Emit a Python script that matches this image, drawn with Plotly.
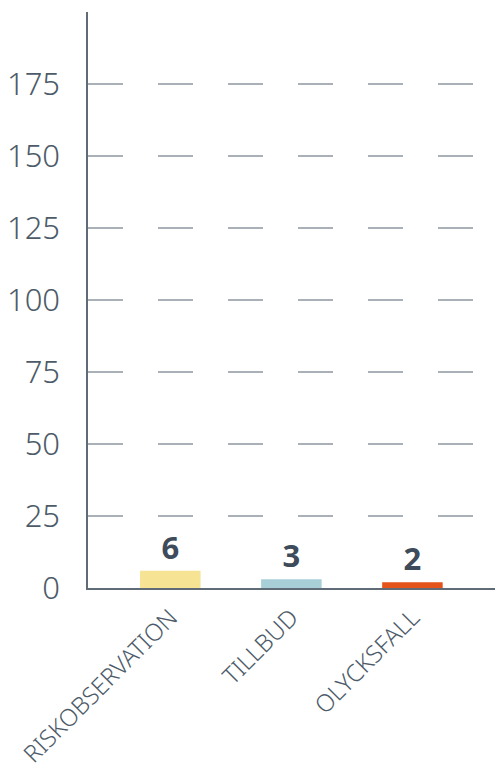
import plotly.graph_objects as go

categories = ["RISKOBSERVATION", "TILLBUD", "OLYCKSFALL"]
values = [6, 3, 2]
bar_colors = ["#f7e394", "#a8ced8", "#e5521a"]
y_ticks = [0, 25, 50, 75, 100, 125, 150, 175]

fig = go.Figure(
    go.Bar(
        x=categories,
        y=values,
        marker=dict(color=bar_colors, line=dict(width=0)),
        width=0.5,
        text=[str(v) for v in values],
        textposition="outside",
        textfont=dict(family="Open Sans", size=31, color="#3d4b5a", weight=700),
        cliponaxis=False,
    )
)

# page body has an 8px default margin, so the figure is sized to fit the window
fig.update_layout(
    width=495,
    height=771,
    margin=dict(l=80, r=1, t=4, b=191),
    paper_bgcolor="white",
    plot_bgcolor="white",
    showlegend=False,
    font=dict(family="Open Sans", color="#4d5b69"),
)

fig.update_xaxes(
    type="category",
    automargin=False,
    range=[-0.68, 2.74],
    showline=True,
    linecolor="#5f6b77",
    linewidth=2,
    showgrid=False,
    ticks="",
    tickangle=-45,
    ticklabelstandoff=4,
    tickfont=dict(family="Noto Sans", size=24, color="#4d5b69", weight=300),
)

fig.update_yaxes(
    automargin=False,
    range=[0, 200],
    tickvals=y_ticks,
    showline=True,
    linecolor="#5f6b77",
    linewidth=1.5,
    showgrid=True,
    gridcolor="#a9b0b7",
    gridwidth=1.5,
    griddash="35px,35px",
    zeroline=False,
    ticks="",
    ticklabelstandoff=20,
    tickfont=dict(family="Noto Sans", size=31, color="#4d5b69", weight=300),
)

fig.write_html("out.html")
